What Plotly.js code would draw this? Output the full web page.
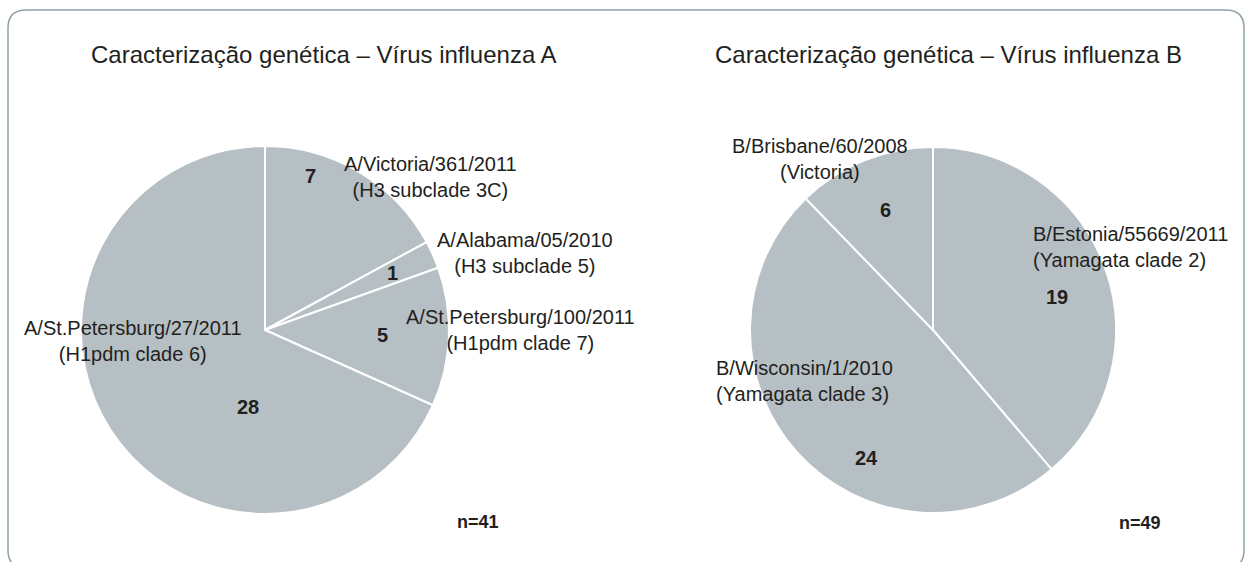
<!DOCTYPE html>
<html>
<head>
<meta charset="utf-8">
<script src="https://cdn.plot.ly/plotly-3.0.1.min.js"></script>
<style>
html,body{margin:0;padding:0;background:#fff;}
#chart{width:1245px;height:562px;}
</style>
</head>
<body>
<div id="chart"></div>
<script>
// ---- Data ----
const titleA = "Caracterização genética – Vírus influenza A";
const titleB = "Caracterização genética – Vírus influenza B";

const strainsA = ["A/Victoria/361/2011", "A/Alabama/05/2010", "A/St.Petersburg/100/2011", "A/St.Petersburg/27/2011"];
const cladesA  = ["(H3 subclade 3C)", "(H3 subclade 5)", "(H1pdm clade 7)", "(H1pdm clade 6)"];
const valuesA  = [7, 1, 5, 28];
const totalLabelA = "n=41";

const strainsB = ["B/Estonia/55669/2011", "B/Wisconsin/1/2010", "B/Brisbane/60/2008"];
const cladesB  = ["(Yamagata clade 2)", "(Yamagata clade 3)", "(Victoria)"];
const valuesB  = [19, 24, 6];
const totalLabelB = "n=49";

// ---- Geometry helpers (pixel -> paper) ----
const W = 1245, H = 562;
const px = x => x / W;
const py = y => 1 - y / H;

const sliceColor = "#b6bfc4";
const textColor = "#231f20";
const FONT = "'Liberation Sans', Arial, Helvetica, sans-serif";

function pieTrace(labels, values, cx, cy, r) {
  return {
    type: "pie",
    labels: labels,
    values: values,
    sort: false,
    direction: "clockwise",
    rotation: 0,
    textinfo: "none",
    hoverinfo: "label+value",
    marker: {colors: values.map(() => sliceColor), line: {color: "#ffffff", width: 2}},
    domain: {x: [px(cx - r), px(cx + r)], y: [py(cy + r), py(cy - r)]},
    showlegend: false
  };
}

const traces = [
  pieTrace(strainsA, valuesA, 265, 330, 184),
  pieTrace(strainsB, valuesB, 933, 330, 183)
];

// label placements (pixel centres / anchors)
const labelPosA = [
  {x: 430, y: 177, xa: "center", al: "center"},
  {x: 525, y: 253, xa: "center", al: "center"},
  {x: 520, y: 330, xa: "center", al: "center"},
  {x: 133, y: 341, xa: "center", al: "center"}
];
const numPosA = [[310, 176], [392, 273], [382, 335], [248, 407]];

const labelPosB = [
  {x: 1031, y: 247, xa: "left", al: "left"},
  {x: 714, y: 381, xa: "left", al: "left"},
  {x: 820, y: 159, xa: "center", al: "center"}
];
const numPosB = [[1057, 297], [866, 458], [886, 210]];

const annotations = [];
function addTitle(text, x, y) {
  annotations.push({text: text, x: px(x), y: py(y), xref: "paper", yref: "paper",
    xanchor: "center", yanchor: "middle", showarrow: false,
    font: {family: FONT, size: 24, color: textColor}});
}
addTitle(titleA, 324, 55);
addTitle(titleB, 948, 55);

function addLabels(strains, clades, values, lpos, npos) {
  strains.forEach((s, i) => {
    annotations.push({text: s + "<br>" + clades[i], x: px(lpos[i].x), y: py(lpos[i].y),
      xref: "paper", yref: "paper", xanchor: lpos[i].xa, yanchor: "middle", align: lpos[i].al,
      showarrow: false, font: {family: FONT, size: 20, color: textColor}});
    annotations.push({text: "<b>" + values[i] + "</b>", x: px(npos[i][0]), y: py(npos[i][1]),
      xref: "paper", yref: "paper", xanchor: "center", yanchor: "middle",
      showarrow: false, font: {family: FONT, size: 20, color: textColor}});
  });
}
addLabels(strainsA, cladesA, valuesA, labelPosA, numPosA);
addLabels(strainsB, cladesB, valuesB, labelPosB, numPosB);

annotations.push({text: "<b>" + totalLabelA + "</b>", x: px(478), y: py(522), xref: "paper", yref: "paper",
  xanchor: "center", yanchor: "middle", showarrow: false, font: {family: FONT, size: 18, color: textColor}});
annotations.push({text: "<b>" + totalLabelB + "</b>", x: px(1140), y: py(523), xref: "paper", yref: "paper",
  xanchor: "center", yanchor: "middle", showarrow: false, font: {family: FONT, size: 18, color: textColor}});

// rounded frame
const L = 8, T = 10, R = 1244, B = 568, rad = 18;
const framePath = [
  "M", px(L), py(T + rad),
  "Q", px(L), py(T), px(L + rad), py(T),
  "L", px(R - rad), py(T),
  "Q", px(R), py(T), px(R), py(T + rad),
  "L", px(R), py(B - rad),
  "Q", px(R), py(B), px(R - rad), py(B),
  "L", px(L + rad), py(B),
  "Q", px(L), py(B), px(L), py(B - rad),
  "Z"
].join(" ");

const layout = {
  width: W, height: H,
  margin: {l: 0, r: 0, t: 0, b: 0},
  paper_bgcolor: "#ffffff",
  showlegend: false,
  annotations: annotations,
  shapes: [{type: "path", xref: "paper", yref: "paper", path: framePath,
    line: {color: "#8fa2a8", width: 1.5}, fillcolor: "rgba(0,0,0,0)"}]
};

Plotly.newPlot("chart", traces, layout, {displayModeBar: false, staticPlot: true});
</script>
</body>
</html>
